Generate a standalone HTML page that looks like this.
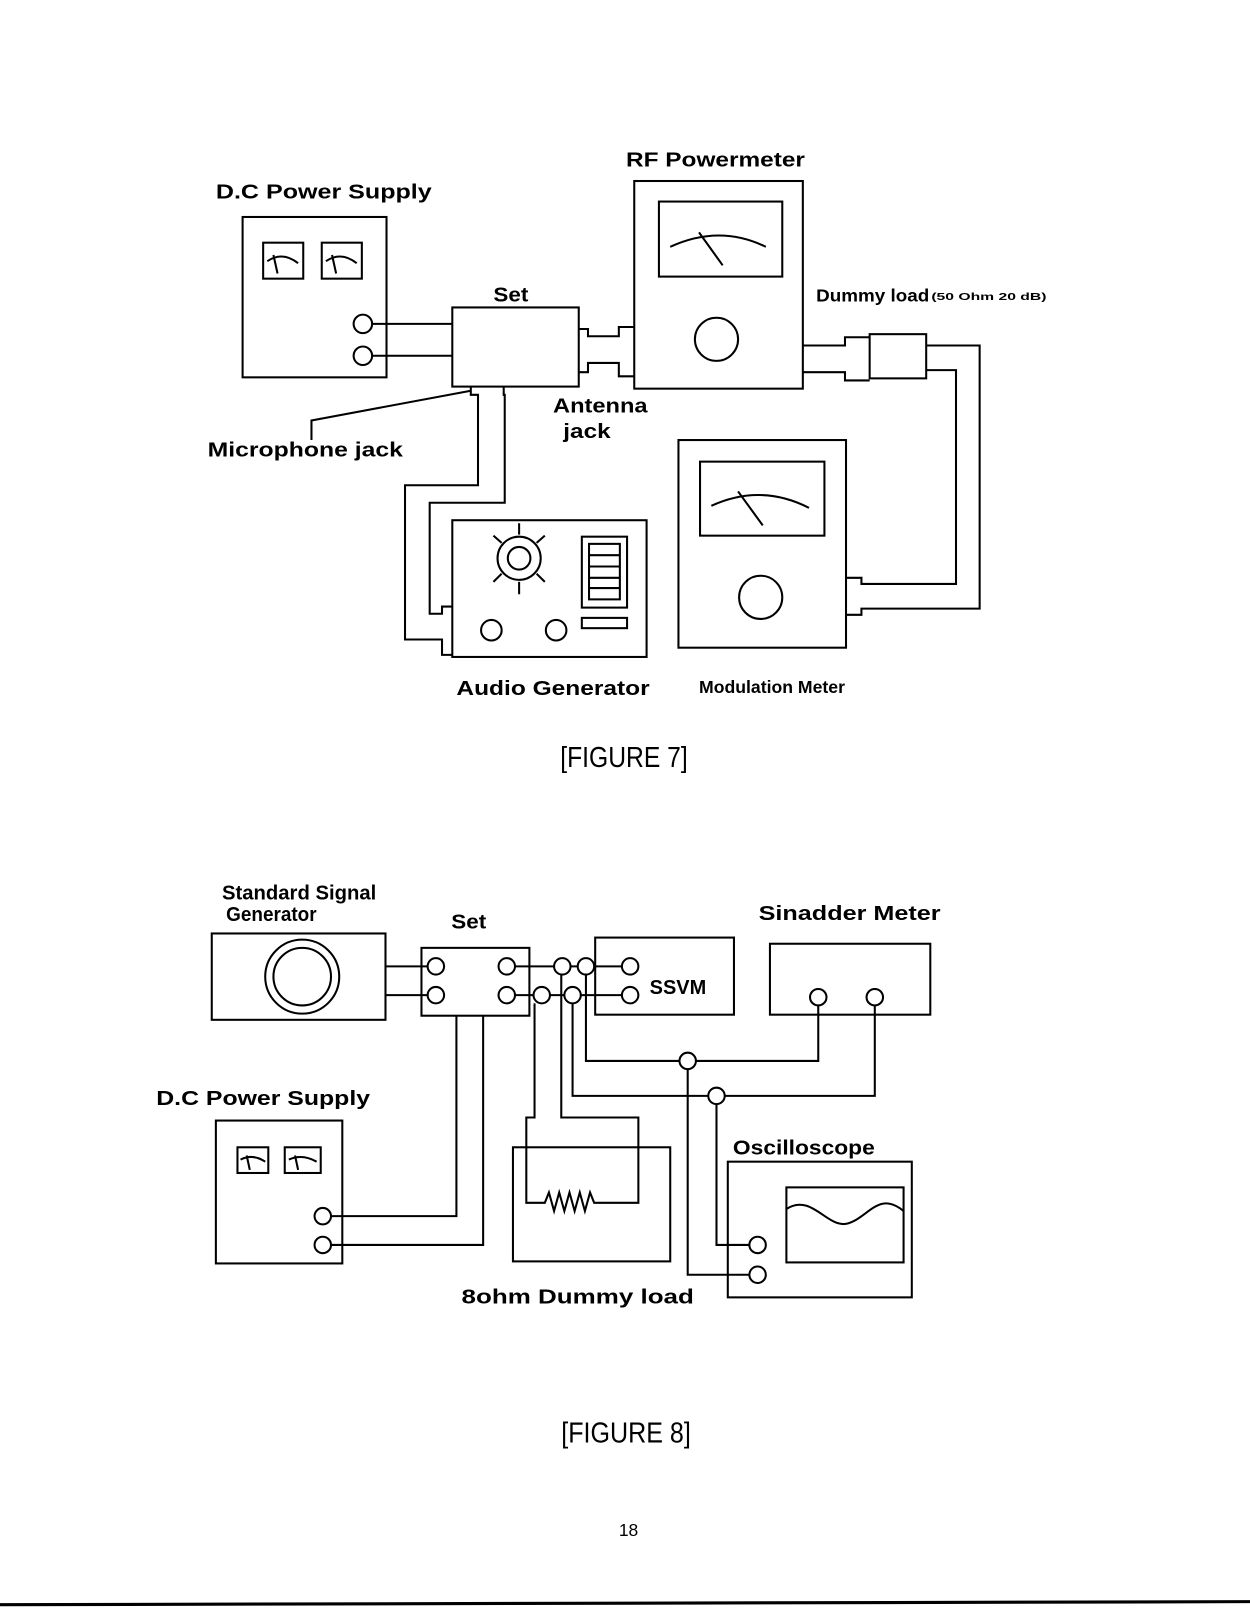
<!DOCTYPE html>
<html><head><style>html,body{margin:0;padding:0;background:#fff}svg{display:block}</style></head><body>
<svg width="1250" height="1612" viewBox="0 0 1216 1568" xmlns="http://www.w3.org/2000/svg" font-family="Liberation Sans, sans-serif" font-weight="bold">
<g fill="none" stroke="#000" stroke-width="2">
<!-- FIG 7 -->
<rect x="236" y="211" width="140" height="156"/>
<rect x="256" y="236" width="39" height="35"/><rect x="313" y="236" width="39" height="35"/>
<path d="M260 254 Q275 244 290 256 M266 248 L270 266 M317 254 Q332 244 347 256 M323 248 L327 266"/>
<circle cx="353" cy="315" r="9"/><circle cx="353" cy="346" r="9"/>
<path d="M362 315H440M362 346H440"/>
<rect x="440" y="299" width="123" height="77"/>
<path d="M563 320H572V327H602V318H617M563 362H572V353H602V366H617"/>
<rect x="617" y="176" width="164" height="202"/>
<rect x="641" y="196" width="120" height="73"/>
<path d="M652 240 Q700 218 745 240 M680 226 L703 258"/>
<circle cx="697" cy="330" r="21"/>
<path d="M781 336H822V328H846M781 362H822V370H846"/>
<rect x="846" y="325" width="55" height="43"/>
<path d="M901 336H953V592H838V598H823M901 360H930V568H838V562H823"/>
<rect x="660" y="428" width="163" height="202"/>
<rect x="681" y="449" width="121" height="72"/>
<path d="M692 492 Q740 470 787 494 M718 478 L742 511"/>
<circle cx="740" cy="581" r="21"/>
<path d="M458 376V384H465V472H394V622H430V637H440M490 376V384H491V489H418V597H430V590H440"/>
<path d="M458 380L303 409V428"/>
<rect x="440" y="506" width="189" height="133"/>
<circle cx="505" cy="543" r="21"/><circle cx="505" cy="543" r="11"/>
<path d="M505 509V520M505 566V578M480 521L488 528M530 521L522 528M480 566L488 558M530 566L522 558"/>
<rect x="566" y="522" width="44" height="69"/>
<rect x="573" y="529" width="30" height="54"/>
<path d="M573 540H603M573 551H603M573 562H603M573 572H603"/>
<rect x="566" y="601" width="44" height="10"/>
<circle cx="478" cy="613" r="10"/><circle cx="541" cy="613" r="10"/>
<!-- FIG 8 -->
<rect x="206" y="908" width="169" height="84"/>
<circle cx="294" cy="950" r="36"/><circle cx="294" cy="950" r="28"/>
<rect x="410" y="922" width="105" height="66"/>
<circle cx="424" cy="940" r="8"/><circle cx="424" cy="968" r="8"/>
<circle cx="493" cy="940" r="8"/><circle cx="493" cy="968" r="8"/>
<path d="M375 940H416M375 968H416"/>
<path d="M501 940H539M555 940H562M578 940H605M501 968H519M535 968H549M565 968H605"/>
<circle cx="547" cy="940" r="8"/><circle cx="570" cy="940" r="8"/>
<circle cx="527" cy="968" r="8"/><circle cx="557" cy="968" r="8"/>
<rect x="579" y="912" width="135" height="75"/>
<circle cx="613" cy="940" r="8"/><circle cx="613" cy="968" r="8"/>
<rect x="749" y="918" width="156" height="69"/>
<circle cx="796" cy="970" r="8"/><circle cx="851" cy="970" r="8"/>
<path d="M570 948V1032H661M677 1032H796V978M557 976V1066H689M705 1066H851V978"/>
<circle cx="669" cy="1032" r="8"/><circle cx="697" cy="1066" r="8"/>
<path d="M669 1040V1240H729M697 1074V1211H729"/>
<circle cx="737" cy="1211" r="8"/><circle cx="737" cy="1240" r="8"/>
<rect x="708" y="1130" width="179" height="132"/>
<rect x="765" y="1155" width="114" height="73"/>
<path d="M765 1176 C790 1160 805 1196 825 1190 C845 1184 855 1158 879 1178"/>
<path d="M520 976V1087H512V1170H530L534 1160L539 1178L544 1160L549 1178L554 1160L559 1178L564 1160L569 1178L574 1160L578 1170H621V1087H546V948"/>
<rect x="499" y="1116" width="153" height="111"/>
<rect x="210" y="1090" width="123" height="139"/>
<rect x="231" y="1116" width="30" height="25"/><rect x="277" y="1116" width="35" height="25"/>
<path d="M234 1128 Q246 1122 258 1130 M240 1124 L243 1138 M281 1128 Q294 1122 308 1130 M287 1124 L290 1138"/>
<circle cx="314" cy="1183" r="8"/><circle cx="314" cy="1211" r="8"/>
<path d="M322 1183H444V988M322 1211H470V988"/>
</g>
<path d="M0 1561L1216 1558" stroke="#000" stroke-width="3"/>
<g fill="#000" font-size="20" lengthAdjust="spacingAndGlyphs">
<text x="210" y="193" textLength="210" lengthAdjust="spacingAndGlyphs">D.C  Power  Supply</text>
<text x="609" y="162" textLength="174" lengthAdjust="spacingAndGlyphs">RF  Powermeter</text>
<text x="480" y="293" textLength="34" lengthAdjust="spacingAndGlyphs">Set</text>
<text x="794" y="293" font-size="17" textLength="110" lengthAdjust="spacingAndGlyphs">Dummy  load</text>
<text x="906" y="292" font-size="10" textLength="112" lengthAdjust="spacingAndGlyphs">(50 Ohm 20 dB)</text>
<text x="538" y="401" textLength="92" lengthAdjust="spacingAndGlyphs">Antenna</text>
<text x="548" y="426" textLength="46" lengthAdjust="spacingAndGlyphs">jack</text>
<text x="202" y="444" textLength="190" lengthAdjust="spacingAndGlyphs">Microphone  jack</text>
<text x="444" y="676" textLength="188" lengthAdjust="spacingAndGlyphs">Audio  Generator</text>
<text x="680" y="674" font-size="17" textLength="142" lengthAdjust="spacingAndGlyphs">Modulation Meter</text>
<text x="545" y="746" font-size="28" font-weight="normal" textLength="124" lengthAdjust="spacingAndGlyphs">[FIGURE  7]</text>
<text x="216" y="875" font-size="20" textLength="150" lengthAdjust="spacingAndGlyphs">Standard Signal</text>
<text x="220" y="896" font-size="20" textLength="88" lengthAdjust="spacingAndGlyphs">Generator</text>
<text x="439" y="903" textLength="34" lengthAdjust="spacingAndGlyphs">Set</text>
<text x="738" y="895" textLength="177" lengthAdjust="spacingAndGlyphs">Sinadder  Meter</text>
<text x="632" y="967" textLength="55" lengthAdjust="spacingAndGlyphs">SSVM</text>
<text x="152" y="1075" textLength="208" lengthAdjust="spacingAndGlyphs">D.C  Power  Supply</text>
<text x="713" y="1123" textLength="138" lengthAdjust="spacingAndGlyphs">Oscilloscope</text>
<text x="449" y="1268" textLength="226" lengthAdjust="spacingAndGlyphs">8ohm  Dummy  load</text>
<text x="546" y="1403" font-size="28" font-weight="normal" textLength="126" lengthAdjust="spacingAndGlyphs">[FIGURE  8]</text>
<text x="602" y="1494" font-size="17" font-weight="normal">18</text>
</g>
</svg>
</body></html>
